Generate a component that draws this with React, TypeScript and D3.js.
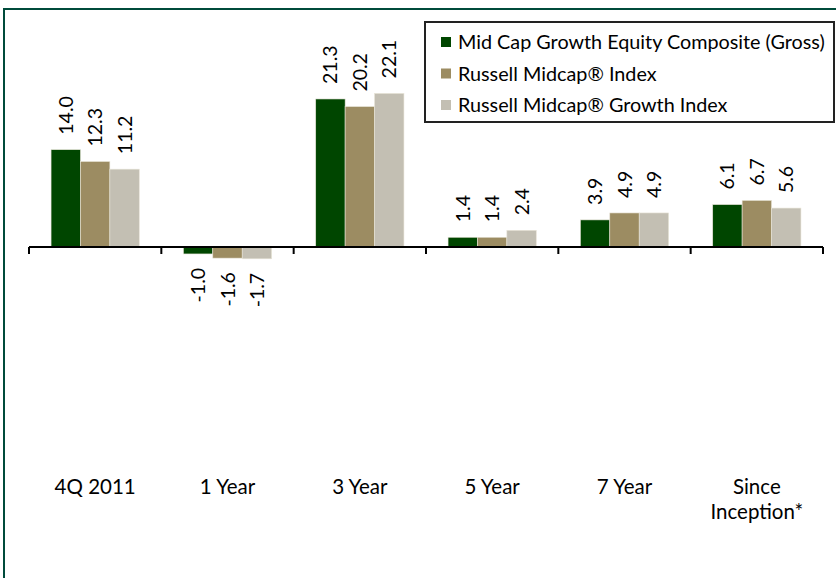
import React from "react";
import * as d3 from "d3";

const categories = ["4Q 2011", "1 Year", "3 Year", "5 Year", "7 Year", "Since Inception*"];
const seriesNames = [
  "Mid Cap Growth Equity Composite (Gross)",
  "Russell Midcap® Index",
  "Russell Midcap® Growth Index",
];
const compositeValues = [14.0, -1.0, 21.3, 1.4, 3.9, 6.1];
const midcapValues = [12.3, -1.6, 20.2, 1.4, 4.9, 6.7];
const growthValues = [11.2, -1.7, 22.1, 2.4, 4.9, 5.6];
const colors = ["#004600", "#9C8C62", "#C3BFB3"];

const W = 836;
const H = 578;
const FONT = "Lato, 'Open Sans', sans-serif";

export default function App() {
  const series = [compositeValues, midcapValues, growthValues];
  const x0 = d3.scaleBand<string>().domain(categories).range([29, 823]).padding(0);
  const x1 = d3
    .scaleBand<number>()
    .domain([0, 1, 2])
    .range([0, x0.bandwidth()])
    .paddingInner(0)
    .paddingOuter(0.75);
  const y = d3.scaleLinear().domain([-30, 30]).range([455.5, 38.5]);
  const fmt = d3.format(".1f");
  const y0 = y(0);
  const ticks = d3.range(categories.length + 1).map((i) => 29 + i * x0.step());

  return (
    <svg
      width={W}
      height={H}
      style={{ position: "absolute", left: 0, top: 0, background: "#fff" }}
      fontFamily={FONT}
    >
      <rect x={0} y={0} width={W} height={H} fill="#fff" />
      {/* frame */}
      <path d={`M4,${H} L4,9 L${W},9`} fill="none" stroke="#004B3B" strokeWidth={2} />

      {/* bars */}
      {categories.map((c, ci) => (
        <g key={c} transform={`translate(${x0(c)},0)`}>
          {series.map((vals, si) => {
            const v = vals[ci];
            const bx = x1(si)!;
            const top = Math.min(y(v), y0);
            const h = Math.abs(y(v) - y0);
            return (
              <rect
                key={si}
                x={bx}
                y={top}
                width={x1.bandwidth()}
                height={h}
                fill={colors[si]}
                stroke="#E8E4D8"
                strokeWidth={0.6}
              />
            );
          })}
          {series.map((vals, si) => {
            const v = vals[ci];
            const cx = x1(si)! + x1.bandwidth() / 2;
            const pos = v >= 0;
            const ly = pos ? y(v) - 15 : y(v) + 14;
            return (
              <text
                key={"l" + si}
                transform={`translate(${cx},${ly}) rotate(-90)`}
                textAnchor={pos ? "start" : "end"}
                dy="0.36em"
                fontSize={19.5}
                fill="#000"
              >
                {fmt(v).replace("\u2212", "-")}
              </text>
            );
          })}
        </g>
      ))}

      {/* axis */}
      <line x1={29} x2={823} y1={y0} y2={y0} stroke="#000" strokeWidth={2} />
      {ticks.map((t, i) => (
        <line key={i} x1={t} x2={t} y1={y0} y2={y0 + 7} stroke="#000" strokeWidth={2} />
      ))}

      {/* category labels */}
      {categories.map((c) => {
        const cx = x0(c)! + x0.bandwidth() / 2;
        const lines = c.length > 10 ? [c.slice(0, c.indexOf(" ")), c.slice(c.indexOf(" ") + 1)] : [c];
        return (
          <text key={c} x={cx} y={494} textAnchor="middle" fontSize={20.5} fill="#000">
            {lines.map((ln, i) => (
              <tspan key={i} x={cx} dy={i === 0 ? 0 : 25}>
                {ln}
              </tspan>
            ))}
          </text>
        );
      })}

      {/* legend */}
      <rect x={425} y={22} width={409} height={100} fill="#fff" stroke="#222" strokeWidth={2} />
      {seriesNames.map((n, i) => (
        <g key={n} transform={`translate(441,${42 + i * 31.5})`}>
          <rect x={0} y={-5} width={10} height={10} fill={colors[i]} />
          <text x={17} y={0} dy="0.36em" fontSize={19.8} fill="#000">
            {n}
          </text>
        </g>
      ))}
    </svg>
  );
}
